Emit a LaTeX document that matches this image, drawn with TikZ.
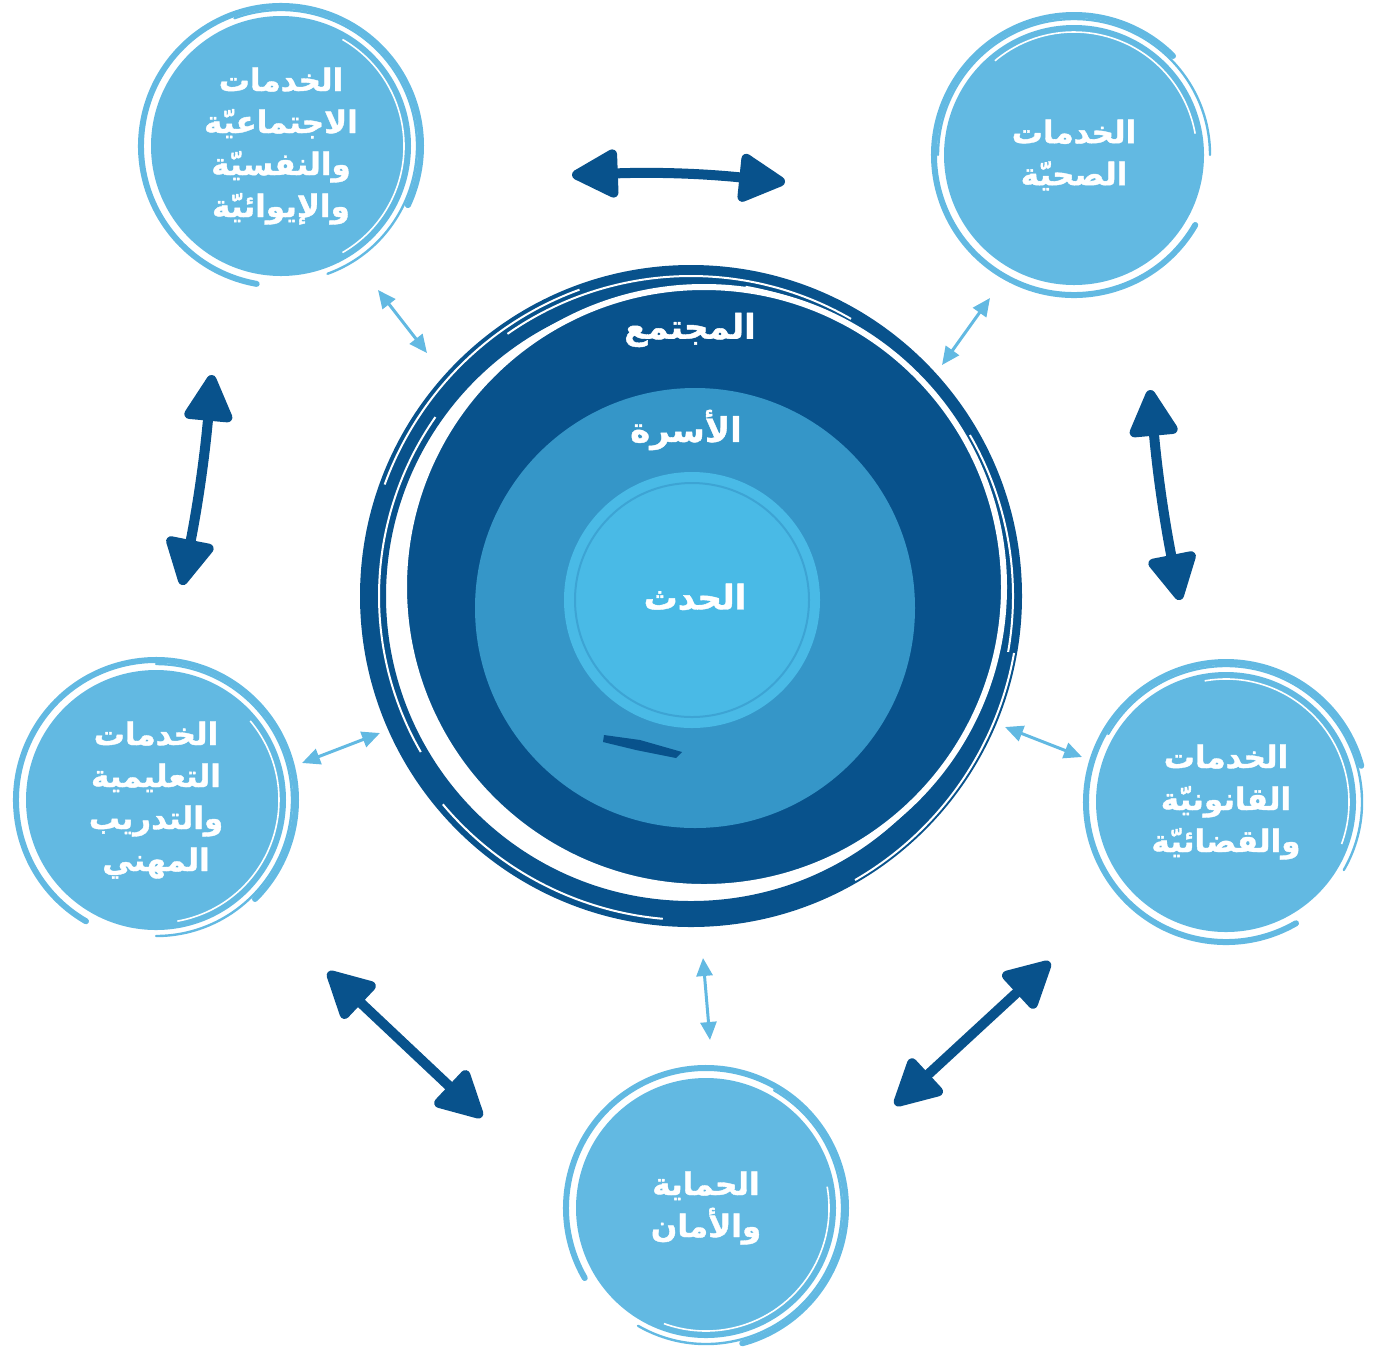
\documentclass[tikz,border=0pt]{standalone}
\usepackage{fontspec}
\usepackage{xcolor}
\usetikzlibrary{arrows.meta,calc}
\newfontfamily\arabicfont[Script=Arabic, BoldFeatures={FakeBold=1.2}]{DejaVu Sans}
\TeXXeTstate=1
\definecolor{darkblue}{RGB}{8,82,140}
\definecolor{midblue}{RGB}{53,150,200}
\definecolor{coreblue}{RGB}{73,186,230}
\definecolor{satblue}{RGB}{98,185,226}

\begin{document}
\begin{tikzpicture}[x=0.5pt, y=-0.5pt, line join=round,
        satnode/.style={shape=circle, fill=satblue, minimum size=130pt, inner sep=0pt, text=white, align=center,
                font=\arabicfont\bfseries\fontsize{15.5}{21}\selectfont},
        ringlabel/.style={text=white, font=\arabicfont\bfseries\fontsize{17}{21}\selectfont},
        satring/.style={draw=satblue, line width=3pt, line cap=round},
        bigarrow/.style={draw=darkblue, line width=5pt,
                {Triangle[length=26pt, width=26pt, round]}-{Triangle[length=26pt, width=26pt, round]}},
        thinarrow/.style={draw=satblue, line width=1.5pt,
                {Triangle[length=9pt, width=8pt]}-{Triangle[length=9pt, width=8pt]}}]
        \useasboundingbox (0,0) rectangle (1386,1356);
        % Community ring
        \draw[darkblue, line width=13pt] (691,596) circle (318);
        \foreach \s/\e/\r in {150/215/312, 200/250/326, 235/300/320, 280/330/314, 10/60/328, 330/370/322, 95/140/324} {
          \draw[white, line width=1pt] ($(691,596)+(\s:\r)$) arc (\s:\e:\r);
        }
        \fill[darkblue, draw=white, line width=3pt] (704,587) circle (300);
        % Family and youth discs
        \fill[midblue] (695,608) circle (220);
        \fill[coreblue] (692,600) circle (128);
        \draw[midblue!60!coreblue, line width=1pt] (692,600) circle (117);
        \fill[darkblue] (604,735) -- (640,740) -- (682,752) -- (676,758) -- (636,750) -- (603,742) -- cycle;
        \node[ringlabel] (comm) at (690,330) {\beginR المجتمع\endR};
        \node[ringlabel] (fam) at (686,430) {\beginR الأسرة\endR};
        \node[ringlabel] (juv) at (695,597) {\beginR الحدث\endR};
        % Service circles
        \node[satnode] (soc) at (281,146) {\beginR الخدمات\endR\\ \beginR الاجتماعيّة\endR\\ \beginR والنفسيّة\endR\\ \beginR والإيوائيّة\endR};
        \node[satnode] (hlt) at (1074,155) {\beginR الخدمات\endR\\ \beginR الصحيّة\endR};
        \node[satnode] (edu) at (156,800) {\beginR الخدمات\endR\\ \beginR التعليمية\endR\\ \beginR والتدريب\endR\\ \beginR المهني\endR};
        \node[satnode] (law) at (1226,802) {\beginR الخدمات\endR\\ \beginR القانونيّة\endR\\ \beginR والقضائيّة\endR};
        \node[satnode] (prt) at (706,1208) {\beginR الحماية\endR\\ \beginR والأمان\endR};
        \foreach \n/\a in {soc/100, hlt/30, edu/120, law/60, prt/150} {
          \draw[satring] ($(\n)+(\a:140)$) arc (\a:\a+285:140);
          \draw[satring, line width=1.2pt] ($(\n)+(\a+150:136)$) arc (\a+150:\a+330:136);
          \draw[white, line width=0.8pt] ($(\n)+(\a+200:123)$) arc (\a+200:\a+320:123);
        }
        % Arrow ends
        \coordinate (s1) at (378,290);  \coordinate (c1) at (427,353);
        \coordinate (h1) at (990,298);  \coordinate (c2) at (942,365);
        \coordinate (e1) at (302,763);  \coordinate (c3) at (380,733);
        \coordinate (l1) at (1082,757); \coordinate (c4) at (1005,727);
        \coordinate (p1) at (710,1040); \coordinate (c5) at (703,958);
        \coordinate (s2) at (572,175);  \coordinate (h2) at (785,182);
        \coordinate (s3) at (212,375);  \coordinate (e2) at (182,585);
        \coordinate (h3) at (1150,390); \coordinate (l2) at (1180,600);
        \coordinate (e3) at (328,972);  \coordinate (p2) at (482,1117);
        \coordinate (l3) at (1050,962); \coordinate (p3) at (895,1105);
        % Thin arrows
        \foreach \a/\b in {s1/c1, h1/c2, e1/c3, l1/c4, p1/c5} {
          \draw[thinarrow] (\a) -- (\b);
        }
        % Thick arrows
        \draw[bigarrow] (s2) to[bend left=4] (h2);
        \draw[bigarrow] (s3) to[bend left=3] (e2);
        \draw[bigarrow] (h3) to[bend right=3] (l2);
        \draw[bigarrow] (e3) -- (p2);
        \draw[bigarrow] (l3) -- (p3);
\end{tikzpicture}
\end{document}
